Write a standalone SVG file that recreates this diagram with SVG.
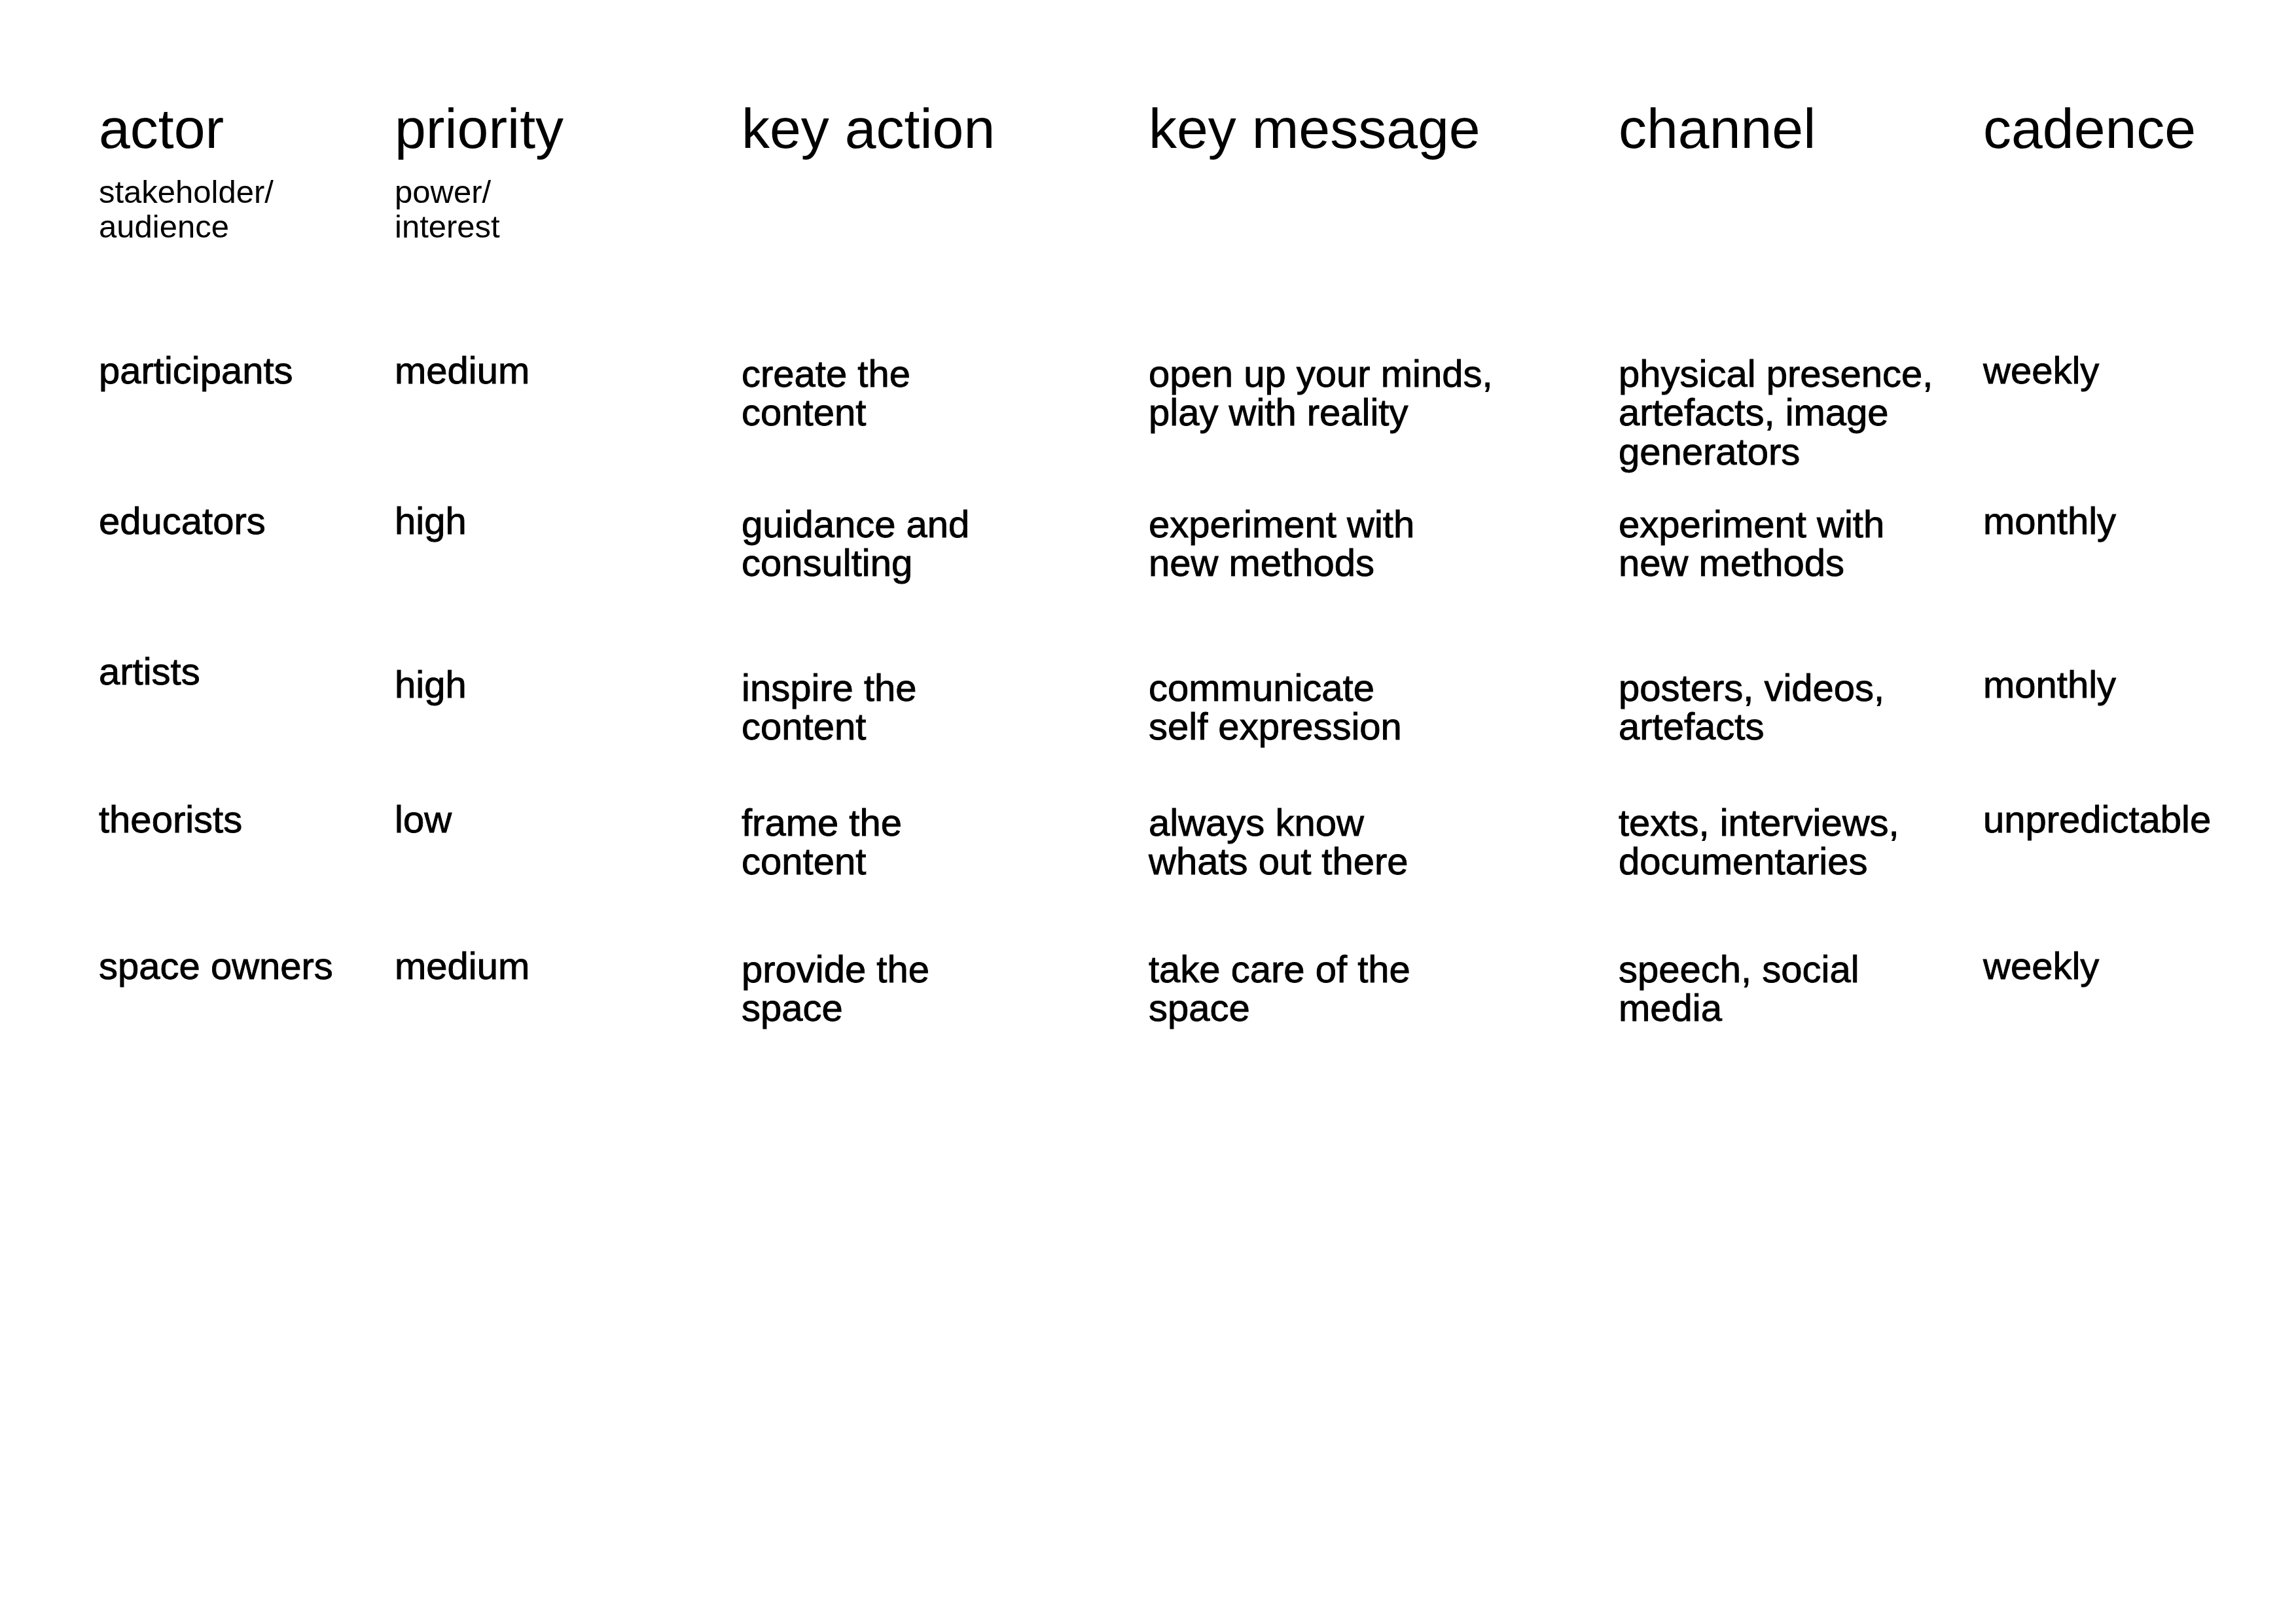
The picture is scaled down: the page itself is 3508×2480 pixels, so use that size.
<svg xmlns="http://www.w3.org/2000/svg" width="3508" height="2480" viewBox="0 0 3508 2480">
<style>
text{font-family:"Liberation Sans",Arial,sans-serif;fill:#000}
.h{font-size:86px}
.s{font-size:49px}
.b{font-size:58px;stroke:#000;stroke-width:0.9px}
</style>
<rect width="3508" height="2480" fill="#fff"/>
<g id="header">
<text class="h" x="151" y="226">actor</text>
<text class="s" x="151" y="310">stakeholder/</text>
<text class="s" x="151" y="363">audience</text>
<text class="h" x="603" y="226">priority</text>
<text class="s" x="603" y="310">power/</text>
<text class="s" x="603" y="363">interest</text>
<text class="h" x="1133" y="226">key action</text>
<text class="h" x="1755" y="226">key message</text>
<text class="h" x="2473" y="226">channel</text>
<text class="h" x="3030" y="226">cadence</text>
</g>
<g id="row-participants">
<text class="b" x="151" y="586">participants</text>
<text class="b" x="603" y="586">medium</text>
<text class="b" x="1133" y="591">create the</text>
<text class="b" x="1133" y="650">content</text>
<text class="b" x="1755" y="591">open up your minds,</text>
<text class="b" x="1755" y="650">play with reality</text>
<text class="b" x="2473" y="591">physical presence,</text>
<text class="b" x="2473" y="650">artefacts, image</text>
<text class="b" x="2473" y="710">generators</text>
<text class="b" x="3030" y="586">weekly</text>
</g>
<g id="row-educators">
<text class="b" x="151" y="816">educators</text>
<text class="b" x="603" y="816">high</text>
<text class="b" x="1133" y="821">guidance and</text>
<text class="b" x="1133" y="880">consulting</text>
<text class="b" x="1755" y="821">experiment with</text>
<text class="b" x="1755" y="880">new methods</text>
<text class="b" x="2473" y="821">experiment with</text>
<text class="b" x="2473" y="880">new methods</text>
<text class="b" x="3030" y="816">monthly</text>
</g>
<g id="row-artists">
<text class="b" x="151" y="1046">artists</text>
<text class="b" x="603" y="1066">high</text>
<text class="b" x="1133" y="1071">inspire the</text>
<text class="b" x="1133" y="1130">content</text>
<text class="b" x="1755" y="1071">communicate</text>
<text class="b" x="1755" y="1130">self expression</text>
<text class="b" x="2473" y="1071">posters, videos,</text>
<text class="b" x="2473" y="1130">artefacts</text>
<text class="b" x="3030" y="1066">monthly</text>
</g>
<g id="row-theorists">
<text class="b" x="151" y="1272">theorists</text>
<text class="b" x="603" y="1272">low</text>
<text class="b" x="1133" y="1277">frame the</text>
<text class="b" x="1133" y="1336">content</text>
<text class="b" x="1755" y="1277">always know</text>
<text class="b" x="1755" y="1336">whats out there</text>
<text class="b" x="2473" y="1277">texts, interviews,</text>
<text class="b" x="2473" y="1336">documentaries</text>
<text class="b" x="3030" y="1272">unpredictable</text>
</g>
<g id="row-space-owners">
<text class="b" x="151" y="1496">space owners</text>
<text class="b" x="603" y="1496">medium</text>
<text class="b" x="1133" y="1501">provide the</text>
<text class="b" x="1133" y="1560">space</text>
<text class="b" x="1755" y="1501">take care of the</text>
<text class="b" x="1755" y="1560">space</text>
<text class="b" x="2473" y="1501">speech, social</text>
<text class="b" x="2473" y="1560">media</text>
<text class="b" x="3030" y="1496">weekly</text>
</g>
</svg>
